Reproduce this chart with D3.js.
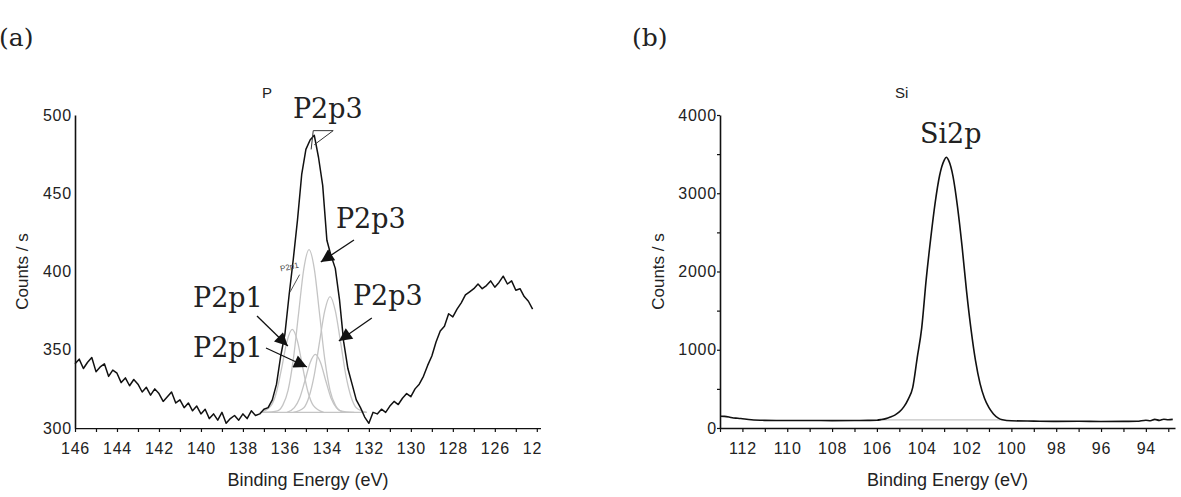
<!DOCTYPE html>
<html>
<head>
<meta charset="utf-8">
<script src="https://cdn.jsdelivr.net/npm/d3@7"></script>
<style>
  body { margin: 0; background: #fff; }
  svg { display: block; }
  .tick text { font-family: "Liberation Sans", Arial, sans-serif; font-size: 16px; fill: #222; letter-spacing: 0.8px; }
  .axislabel { font-family: "Liberation Sans", Arial, sans-serif; fill: #222; }
  .serif { font-family: "DejaVu Serif", serif; fill: #222; }
</style>
</head>
<body>
<div id="chart"></div>
<script>
// ---------- data ----------

// panel (a): P 2p spectrum, counts/s every 0.2 eV from 146.0 eV down to 124.2 eV
var pStart = 146.0;
var pStep = 0.2;
var pCounts = [
  341, 344, 338, 342, 345, 336, 339, 341, 333, 337,
  335, 329, 332, 327, 331, 328, 323, 326, 321, 325,
  322, 317, 320, 323, 316, 318, 313, 316, 311, 314,
  309, 312, 306, 309, 305, 310, 303, 306, 308, 305,
  309, 306, 311, 308, 309, 312, 313, 318, 328, 346,
  360, 385, 408, 433, 462, 478, 484, 487, 473, 455,
  420, 410, 402, 382, 355, 338, 328, 318, 313, 307,
  303, 310, 309, 312, 310, 314, 317, 315, 319, 322,
  320, 325, 328, 333, 340, 346, 355, 362, 365, 373,
  371, 376, 380, 385, 387, 389, 392, 389, 391, 394,
  390, 393, 397, 392, 394, 388, 389, 384, 381, 376
];

// fitted components of panel (a), [binding energy, counts/s]
var pBaseline = [[137.2, 310], [132.1, 310]];
var pComp1 = [[137.15, 310], [136.65, 314.5], [136.4, 323], [136.15, 338.6], [135.9, 355.4], [135.65, 363],
  [135.4, 355.4], [135.15, 338.6], [134.9, 323], [134.65, 314.5], [134.15, 310]];
var pComp2 = [[137.0, 310], [136.35, 311], [136.1, 314.6], [135.85, 324], [135.6, 343.8], [135.35, 373], [135.1, 401.7],
  [134.85, 414], [134.6, 401.7], [134.35, 373], [134.1, 343.8], [133.85, 324], [133.6, 314.6], [133.35, 311], [132.7, 310]];
var pComp3 = [[135.9, 310], [135.55, 313], [135.3, 319], [135.05, 330], [134.8, 341.7], [134.55, 347],
  [134.3, 341.7], [134.05, 330], [133.8, 319], [133.55, 313], [133.2, 310]];
var pComp4 = [[135.6, 310], [135.1, 313], [134.85, 320], [134.6, 334], [134.35, 355], [134.1, 375], [133.85, 384],
  [133.6, 375], [133.35, 355], [133.1, 334], [132.85, 320], [132.6, 313], [132.1, 310]];

// annotations of panel (a): text anchor and arrow (start -> tip), all in data units
var pNotes = [
  { text: "P2p3", at: [135.62, 498.1], from: null, to: null },
  { text: "P2p3", at: [133.57, 427.8], from: [132.71, 420.1], to: [134.29, 406.1] },
  { text: "P2p3", at: [132.76, 378.6], from: [131.86, 370.3], to: [133.43, 355.6] },
  { text: "P2p1", at: [140.38, 377.3], from: [137.33, 371.6], to: [135.86, 352.4] },
  { text: "P2p1", at: [140.38, 345.4], from: [136.90, 351.1], to: [134.95, 339.0] }
];

var pTickLabels = [146, 144, 142, 140, 138, 136, 134, 132, 130, 128, 126, 124];
var pYTicks = [300, 350, 400, 450, 500];

// panel (b): Si 2p spectrum, [binding energy, counts/s]
var siSpectrum = [
  [113.0, 150], [112.8, 148], [112.6, 140], [112.4, 128], [112.2, 125], [112.0, 118], [111.6, 105],
  [111.0, 98], [110.0, 95], [109.0, 96], [108.0, 94], [107.0, 95], [106.4, 97], [106.0, 100],
  [105.8, 108], [105.6, 120], [105.4, 140], [105.2, 165], [105.0, 205], [104.8, 270], [104.6, 370],
  [104.4, 520], [104.2, 900], [104.0, 1280], [103.8, 1900], [103.6, 2420], [103.4, 2880], [103.2, 3230],
  [103.0, 3420], [102.9, 3460], [102.8, 3420], [102.6, 3210], [102.4, 2820], [102.2, 2320], [102.0, 1750],
  [101.8, 1260], [101.6, 860], [101.4, 570], [101.2, 380], [101.0, 260], [100.8, 180], [100.6, 130],
  [100.4, 105], [100.0, 92], [99.0, 88], [98.0, 85], [97.0, 86], [96.0, 84], [95.0, 85], [94.4, 86],
  [94.0, 100], [93.8, 92], [93.6, 110], [93.4, 98], [93.2, 112], [93.0, 105], [92.8, 110]
];
var siBaseline = [[105.9, 105], [100.4, 105]];

var siTickLabels = [112, 110, 108, 106, 104, 102, 100, 98, 96, 94];
var siYTicks = [0, 1000, 2000, 3000, 4000];
var siYMinor = [0, 500, 1000, 1500, 2000, 2500, 3000, 3500, 4000];

// ---------- drawing ----------
var width = 1181;
var height = 497;

var svg = d3.select("#chart")
  .append("svg")
    .attr("width", width)
    .attr("height", height);

// arrow head used by the annotations
svg.append("defs")
  .append("marker")
    .attr("id", "arrow")
    .attr("viewBox", "0 0 10 10")
    .attr("refX", 10)
    .attr("refY", 5)
    .attr("markerWidth", 15)
    .attr("markerHeight", 13)
    .attr("markerUnits", "userSpaceOnUse")
    .attr("orient", "auto")
  .append("path")
    .attr("d", "M0,0L10,5L0,10Z")
    .style("fill", "#111");

// clip for the cut "124" label on the right of panel (a)
svg.select("defs")
  .append("clipPath")
    .attr("id", "clipA")
  .append("rect")
    .attr("x", 0).attr("y", 0)
    .attr("width", 541).attr("height", height);

function styleAxis(g) {
  g.select(".domain").style("stroke", "#111").style("stroke-width", 1.6);
  g.selectAll(".tick line").style("stroke", "#111").style("stroke-width", 1.2);
}

function xAxis(g, x, labels, y0) {
  var lo = Math.ceil(d3.min(x.domain()));
  var hi = Math.floor(d3.max(x.domain()));
  var minor = d3.range(lo, hi + 1);
  g.attr("transform", "translate(0," + y0 + ")")
    .call(d3.axisBottom(x)
      .tickValues(minor)
      .tickSize(4)
      .tickSizeOuter(0)
      .tickPadding(11)
      .tickFormat(function(d) { return labels.indexOf(d) >= 0 ? d : ""; }));
  styleAxis(g);
}

function axisTitles(x0, x1, yTop, yBot, yLabelX) {
  svg.append("text")
    .attr("class", "axislabel")
    .attr("x", (x0 + x1) / 2)
    .attr("y", 486)
    .attr("text-anchor", "middle")
    .style("font-size", "18px")
    .text("Binding Energy (eV)");
  svg.append("text")
    .attr("class", "axislabel")
    .attr("transform", "translate(" + yLabelX + "," + ((yTop + yBot) / 2) + ") rotate(-90)")
    .attr("text-anchor", "middle")
    .attr("dy", "0.35em")
    .style("font-size", "17px")
    .text("Counts / s");
}

var line = d3.line().x(function(d) { return d[0]; }).y(function(d) { return d[1]; });

// ---- panel (a) ----
var xA = d3.scaleLinear().domain([146, 123.8]).range([75, 541]);
var yA = d3.scaleLinear().domain([300, 500]).range([428, 115]);

var pData = pCounts.map(function(v, i) { return [pStart - i * pStep, v]; });

function pathA(arr) {
  return line(arr.map(function(d) { return [xA(d[0]), yA(d[1])]; }));
}

var gA = svg.append("g");

// fitted components in light grey
[pBaseline, pComp1, pComp2, pComp3, pComp4].forEach(function(c) {
  gA.append("path")
    .attr("d", d3.line()
      .x(function(d) { return xA(d[0]); })
      .y(function(d) { return yA(d[1]); })
      .curve(d3.curveMonotoneX)(c))
    .style("fill", "none")
    .style("stroke", "#c4c4c4")
    .style("stroke-width", 1.3);
});

// measured spectrum
gA.append("path")
  .attr("d", pathA(pData))
  .style("fill", "none")
  .style("stroke", "#111")
  .style("stroke-width", 1.5)
  .style("stroke-linejoin", "round");

// small peak markers left by the fitting software
gA.append("path")
  .attr("d", "M" + xA(134.75) + "," + yA(478) + "L" + xA(134.65) + "," + yA(490) +
             "L" + xA(133.7) + "," + yA(490) + "L" + xA(134.6) + "," + yA(481))
  .style("fill", "none").style("stroke", "#333").style("stroke-width", 1);
gA.append("path")
  .attr("d", "M" + xA(135.75) + "," + yA(387) + "L" + xA(135.3) + "," + yA(398))
  .style("fill", "none").style("stroke", "#555").style("stroke-width", 1);
gA.append("text")
  .attr("transform", "translate(" + xA(136.2) + "," + yA(400) + ") rotate(-12)")
  .style("font-family", "Liberation Sans, Arial, sans-serif")
  .style("font-size", "8px")
  .style("fill", "#444")
  .text("P2p1");

// axes
gA.append("g")
  .attr("clip-path", "url(#clipA)")
  .call(function(g) { xAxis(g, xA, pTickLabels, 428); });

gA.append("g")
  .attr("transform", "translate(75,0)")
  .call(d3.axisLeft(yA).tickValues(pYTicks).tickSize(0).tickSizeOuter(0).tickPadding(3))
  .call(styleAxis);

axisTitles(75, 541, 115, 428, 22);

gA.append("text")
  .attr("class", "axislabel")
  .attr("x", 262).attr("y", 98)
  .style("font-size", "15px")
  .text("P");

// annotations with arrows
pNotes.forEach(function(n) {
  gA.append("text")
    .attr("class", "serif")
    .attr("x", xA(n.at[0]))
    .attr("y", yA(n.at[1]))
    .style("font-size", "27px")
    .text(n.text);
  if (n.from) {
    gA.append("line")
      .attr("x1", xA(n.from[0])).attr("y1", yA(n.from[1]))
      .attr("x2", xA(n.to[0])).attr("y2", yA(n.to[1]))
      .style("stroke", "#111")
      .style("stroke-width", 1.3)
      .attr("marker-end", "url(#arrow)");
  }
});

svg.append("text")
  .attr("class", "serif")
  .attr("x", -1).attr("y", 46)
  .style("font-size", "25px")
  .text("(a)");

// ---- panel (b) ----
var xB = d3.scaleLinear().domain([113, 92.7]).range([720, 1175]);
var yB = d3.scaleLinear().domain([0, 4000]).range([428, 115]);

function pathB(arr) {
  return line(arr.map(function(d) { return [xB(d[0]), yB(d[1])]; }));
}

var gB = svg.append("g");

gB.append("path")
  .attr("d", pathB(siBaseline))
  .style("fill", "none")
  .style("stroke", "#c4c4c4")
  .style("stroke-width", 1.3);

gB.append("path")
  .attr("d", d3.line()
    .x(function(d) { return xB(d[0]); })
    .y(function(d) { return yB(d[1]); })
    .curve(d3.curveMonotoneX)(siSpectrum))
  .style("fill", "none")
  .style("stroke", "#111")
  .style("stroke-width", 1.6);

gB.append("g")
  .call(function(g) { xAxis(g, xB, siTickLabels, 428); });

gB.append("g")
  .attr("transform", "translate(720,0)")
  .call(d3.axisLeft(yB)
    .tickValues(siYMinor)
    .tickSize(3)
    .tickSizeOuter(0)
    .tickPadding(0)
    .tickFormat(function(d) { return siYTicks.indexOf(d) >= 0 ? d : ""; }))
  .call(styleAxis);

axisTitles(720, 1175, 115, 428, 658);

gB.append("text")
  .attr("class", "axislabel")
  .attr("x", 895).attr("y", 98)
  .style("font-size", "15px")
  .text("Si");

gB.append("text")
  .attr("class", "serif")
  .attr("x", xB(104.08))
  .attr("y", yB(3642))
  .style("font-size", "27px")
  .text("Si2p");

svg.append("text")
  .attr("class", "serif")
  .attr("x", 632).attr("y", 46)
  .style("font-size", "25px")
  .text("(b)");
</script>
</body>
</html>
